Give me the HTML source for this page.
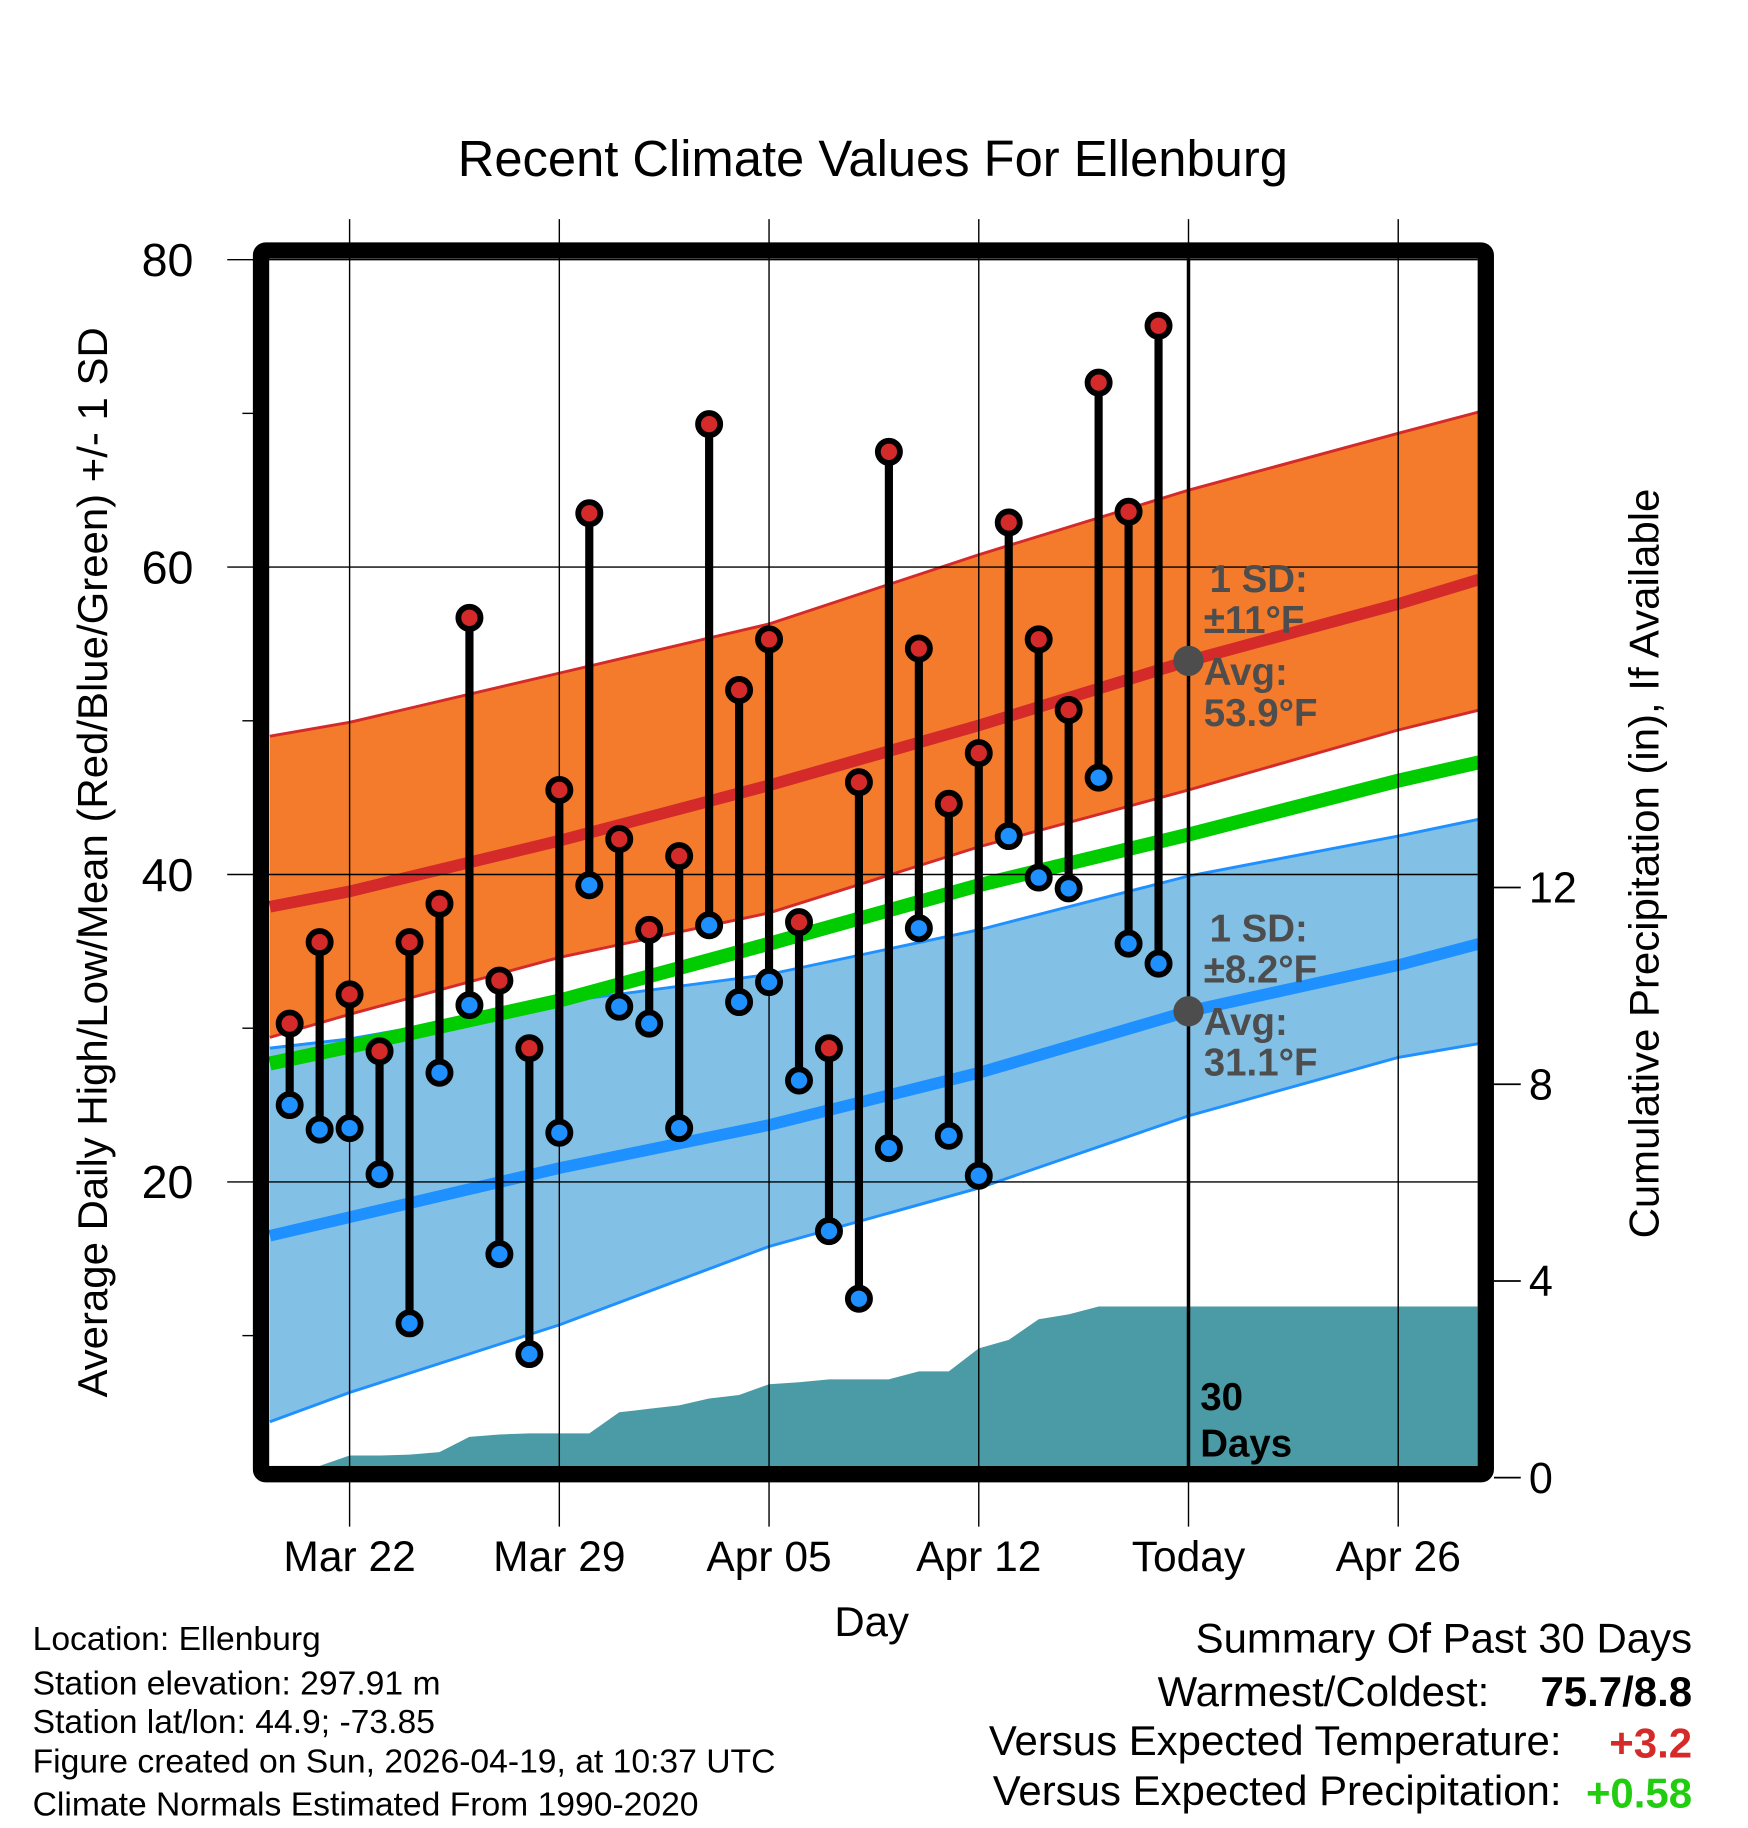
<!DOCTYPE html>
<html><head><meta charset="utf-8"><style>
html,body{margin:0;padding:0;background:#fff;}
svg{display:block;font-family:"Liberation Sans",sans-serif;}
</style></head><body>
<svg id="chart" width="1748" height="1828" viewBox="0 0 1500 1568.6" xmlns="http://www.w3.org/2000/svg">
<text x="749" y="151" font-size="43.5" text-anchor="middle">Recent Climate Values For Ellenburg</text>
<g id="plot"></g>
<text transform="translate(92,740) rotate(-90)" font-size="36" text-anchor="middle">Average Daily High/Low/Mean (Red/Blue/Green) +/- 1 SD</text>
<text transform="translate(1423,741) rotate(-90)" font-size="36" text-anchor="middle">Cumulative Precipitation (in), If Available</text>
<text x="748" y="1404" font-size="36" text-anchor="middle">Day</text>
<g font-size="28.9">
<text x="28" y="1416">Location: Ellenburg</text>
<text x="28" y="1454">Station elevation: 297.91 m</text>
<text x="28" y="1487">Station lat/lon: 44.9; -73.85</text>
<text x="28" y="1521">Figure created on Sun, 2026-04-19, at 10:37 UTC</text>
<text x="28" y="1558">Climate Normals Estimated From 1990-2020</text>
</g>
<g font-size="36" text-anchor="end">
<text x="1452" y="1418">Summary Of Past 30 Days</text>
<text x="1278" y="1464">Warmest/Coldest:</text>
<text x="1452" y="1464" font-weight="bold">75.7/8.8</text>
<text x="1340" y="1506">Versus Expected Temperature:</text>
<text x="1452" y="1508" font-weight="bold" fill="#d42a2a">+3.2</text>
<text x="1340" y="1549">Versus Expected Precipitation:</text>
<text x="1452" y="1551" font-weight="bold" fill="#22cc11">+0.58</text>
</g>
</svg>
<script>
const dayOffsets = [-2,-1,0,1,2,3,4,5,6,7,8,9,10,11,12,13,14,15,16,17,18,19,20,21,22,23,24,25,26,27];
const highs = [30.3,35.6,32.2,28.5,35.6,38.1,56.7,33.1,28.7,45.5,63.5,42.3,36.4,41.2,69.3,52.0,55.3,36.9,28.7,46.0,67.5,54.7,44.6,47.9,62.9,55.3,50.7,72.0,63.6,75.7];
const lows = [25.0,23.4,23.5,20.5,10.8,27.1,31.5,15.3,8.8,23.2,39.3,31.4,30.3,23.5,36.7,31.7,33.0,26.6,16.8,12.4,22.2,36.5,23.0,20.4,42.5,39.8,39.1,46.3,35.5,34.2];
const precip = [0.24,0.24,0.45,0.45,0.47,0.52,0.83,0.88,0.90,0.90,0.90,1.33,1.40,1.47,1.61,1.68,1.90,1.94,2.00,2.00,2.00,2.16,2.16,2.63,2.80,3.22,3.32,3.48,3.48,3.48];
const normDays = [-2.66,0,7,14,21,28,35,37.7];
const normHigh = [37.9,38.9,42.2,45.8,49.7,53.9,57.6,59.2];
const normHighUp = [49.0,49.9,53.1,56.3,60.8,65.0,68.7,70.1];
const normHighLo = [29.4,30.9,34.6,37.5,41.8,45.5,49.4,50.7];
const normMean = [27.7,28.8,31.8,35.5,39.3,42.6,46.1,47.3];
const normLow = [16.5,17.7,20.9,23.7,27.1,31.1,34.1,35.5];
const normLowUp = [28.7,29.3,31.7,33.5,36.4,39.9,42.5,43.6];
const normLowLo = [4.4,6.3,10.7,15.8,19.6,24.3,28.1,29.0];
const xTickDays = [0,7,14,21,28,35];
const xTickLabels = ["Mar 22","Mar 29","Apr 05","Apr 12","Today","Apr 26"];
const yTicks = [20,40,60,80];
const yMinor = [10,30,50,70];
const y2Ticks = [0,4,8,12];

const X = d => 300 + 25.71*d;
const Y = v => 1278 - 13.19*v;
const Y2 = p => 1268 - 42.2*p;
const L = 231, R = 1268, T = 222, B = 1258;
const NS = "http://www.w3.org/2000/svg";
const g = document.getElementById('plot');
function mk(tag, attrs){const e=document.createElementNS(NS,tag);for(const k in attrs)e.setAttribute(k,attrs[k]);g.appendChild(e);return e;}
function pts(days, vals){return days.map((d,i)=>X(d).toFixed(1)+','+Y(vals[i]).toFixed(1));}

let e;
e = mk('polygon',{points:pts(normDays,normHighUp).concat(pts(normDays,normHighLo).reverse()).join(' '),fill:'#f47b2c'});
 
e = mk('polygon',{points:pts(normDays,normLowUp).concat(pts(normDays,normLowLo).reverse()).join(' '),fill:'#82c0e6'});
 
[[normHighUp,'#d42a2a',2.5,'high-band-upper'],[normHighLo,'#d42a2a',2.5,'high-band-lower'],[normLowUp,'#1e90ff',2.5,'low-band-upper'],[normLowLo,'#1e90ff',2.5,'low-band-lower'],[normHigh,'#d42a2a',10,'normal-high-line'],[normMean,'#00cc00',12,'normal-mean-line'],[normLow,'#1e90ff',10,'normal-low-line']].forEach(a=>{
  e = mk('polyline',{points:pts(normDays,a[0]).join(' '),fill:'none',stroke:a[1],'stroke-width':a[2]});
   
});
let pp = [L+','+B, L+','+Y2(precip[0])];
dayOffsets.forEach((d,i)=>pp.push(X(d).toFixed(1)+','+Y2(precip[i]).toFixed(1)));
pp.push(R+','+Y2(precip[precip.length-1]).toFixed(1)); pp.push(R+','+B);
e = mk('polygon',{points:pp.join(' '),fill:'#4a9ba5'});
 
xTickDays.forEach(d=>{
  e = mk('line',{x1:X(d),x2:X(d),y1:188,y2:1310,stroke:'#000','stroke-width':1.2});
   
});
yTicks.forEach(v=>{
  e = mk('line',{x1:195,x2:R,y1:Y(v),y2:Y(v),stroke:'#000','stroke-width':1.2});
   
  e = mk('text',{x:166,y:Y(v)+14,'font-size':40,'text-anchor':'end'}); e.textContent=v;
   
});
yMinor.forEach(v=>{
  e = mk('line',{x1:208,x2:218,y1:Y(v),y2:Y(v),stroke:'#000','stroke-width':1.2});
   
});
y2Ticks.forEach(p=>{
  e = mk('line',{x1:1282,x2:1305,y1:Y2(p),y2:Y2(p),stroke:'#000','stroke-width':1.5});
   
  e = mk('text',{x:1312,y:Y2(p)+13,'font-size':37}); e.textContent=p;
   
});
xTickDays.forEach((d,i)=>{
  e = mk('text',{x:X(d),y:1348,'font-size':36.5,'text-anchor':'middle'}); e.textContent=xTickLabels[i];
   
});
e = mk('line',{x1:X(28),x2:X(28),y1:T,y2:B,stroke:'#000','stroke-width':3});
 
e = mk('text',{x:1030,y:1210,'font-size':33,'font-weight':'bold'}); e.textContent='30';
 
e = mk('text',{x:1030,y:1250,'font-size':33,'font-weight':'bold'}); e.textContent='Days';
 
dayOffsets.forEach((d,i)=>{
  e = mk('line',{x1:X(d),x2:X(d),y1:Y(highs[i]),y2:Y(lows[i]),stroke:'#000','stroke-width':7});
   
  e = mk('circle',{cx:X(d),cy:Y(highs[i]),r:9.5,fill:'#d42a2a',stroke:'#000','stroke-width':5});
   
  e = mk('circle',{cx:X(d),cy:Y(lows[i]),r:9.5,fill:'#1e90ff',stroke:'#000','stroke-width':5});
   
});
const ann = [[normHigh[5],['1 SD:','±11°F','Avg:','53.9°F'],497],[normLow[5],['1 SD:','±8.2°F','Avg:','31.1°F'],797]];
ann.forEach(a=>{
  e = mk('circle',{cx:X(28),cy:Y(a[0]),r:13,fill:'#4d4d4d'});
   
  const ys=[a[2]+11,a[2]+46,a[2]+91,a[2]+126];
  a[1].forEach((t,j)=>{
    e = mk('text',{x:j==0?1038:1033,y:ys[j],'font-size':33,'font-weight':'bold',fill:'#4d4d4d'}); e.textContent=t;
     
  });
});
e = mk('rect',{x:224,y:215,width:1051,height:1050,fill:'none',stroke:'#000','stroke-width':14,rx:4});
 
</script>
</body></html>
